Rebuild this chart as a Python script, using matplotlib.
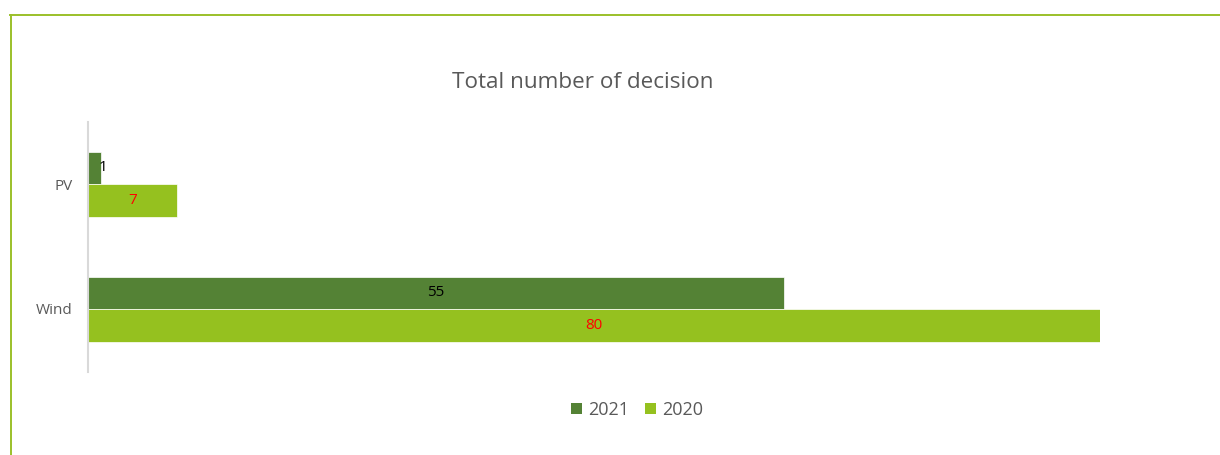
import matplotlib
matplotlib.use("Agg")
import matplotlib.pyplot as plt
from matplotlib.patches import Patch
from matplotlib.lines import Line2D
import numpy as np

plt.rcParams['font.family'] = ['Open Sans', 'DejaVu Sans']

categories = ["Wind", "PV"]
values_2021 = [55, 1]
values_2020 = [80, 7]
series_names = ["2021", "2020"]

c2021 = "#548235"
c2020 = "#95C11F"
text_gray = "#595959"

W, H = 1220, 455
fig = plt.figure(figsize=(W / 100, H / 100), dpi=100)

# outer frame of the chart area (top and left edges)
fig.add_artist(Line2D([10 / W, 1.0], [1 - 15 / H, 1 - 15 / H], color="#9BC02A", lw=1.4,
                      transform=fig.transFigure))
fig.add_artist(Line2D([10.5 / W, 10.5 / W], [0, 1 - 15 / H], color="#9BC02A", lw=1.4,
                      transform=fig.transFigure))

ax = fig.add_axes([88 / W, 1 - 371.5 / H, (1100 - 88) / W, 250 / H])

y = np.arange(len(categories))
h = 0.26
ax.barh(y + h / 2, values_2021, height=h, color=c2021, edgecolor="white", linewidth=0.5)
ax.barh(y - h / 2, values_2020, height=h, color=c2020, edgecolor="white", linewidth=0.5)

for yi, v in zip(y, values_2021):
    if v < 3:
        ax.text(v + 0.15, yi + h / 2, str(v), ha="center", va="center", fontsize=11, color="black")
    else:
        ax.text(v / 2, yi + h / 2, str(v), ha="center", va="center", fontsize=11, color="black")
for yi, v in zip(y, values_2020):
    ax.text(v / 2, yi - h / 2, str(v), ha="center", va="center", fontsize=11, color="red")

ax.set_xlim(0, 80)
ax.set_ylim(-0.5, 1.5)
ax.set_yticks(y)
ax.set_yticklabels(categories, fontsize=11, color=text_gray)
ax.tick_params(axis="y", length=0, pad=11)
ax.set_xticks([])
for s in ["top", "right", "bottom"]:
    ax.spines[s].set_visible(False)
ax.spines["left"].set_color("#D9D9D9")
ax.spines["left"].set_linewidth(1.5)

fig.text(583 / W, 1 - 82 / H, "Total number of decision", ha="center", va="center",
         fontsize=16.2, color=text_gray)

handles = [Patch(facecolor=c2021), Patch(facecolor=c2020)]
fig.legend(handles, series_names, loc="center", bbox_to_anchor=(637 / W, 1 - 410 / H),
           ncol=2, frameon=False, fontsize=13, labelcolor=text_gray,
           handlelength=0.6, handleheight=0.6, handletextpad=0.35, columnspacing=0.9)

fig.savefig("out.png", dpi=100, facecolor="white")
